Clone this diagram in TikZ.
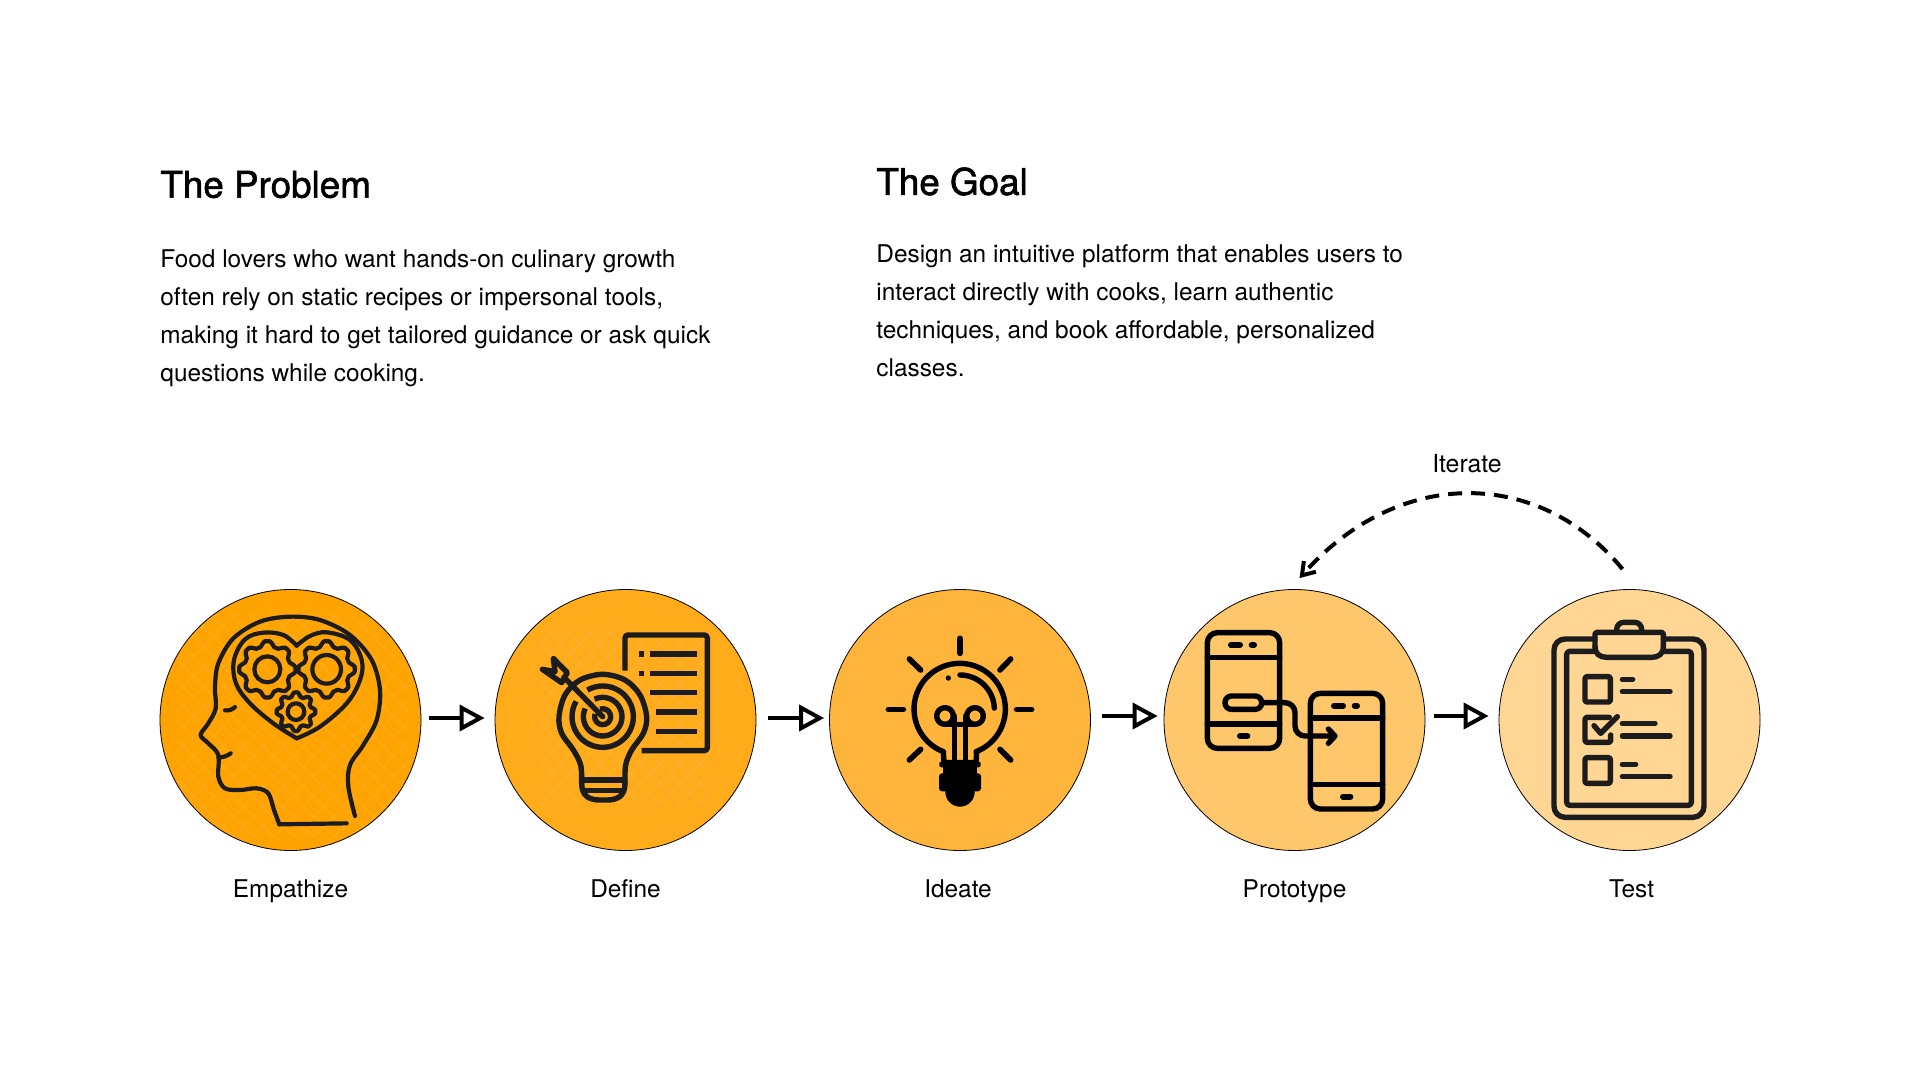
\documentclass[tikz,border=0pt]{standalone}
\usepackage{fontspec}
\setmainfont{TeX Gyre Heros}
\newfontfamily\headfont[FakeBold=1.6]{TeX Gyre Heros}
\usepackage{xcolor}
\usetikzlibrary{positioning, calc, arrows.meta}
\definecolor{stepone}{RGB}{255, 163, 0}
\definecolor{steptwo}{RGB}{255, 171, 26}
\definecolor{stepthree}{RGB}{255, 181, 59}
\definecolor{stepfour}{RGB}{255, 199, 107}
\definecolor{stepfive}{RGB}{255, 214, 148}
\definecolor{icondark}{RGB}{28, 28, 28}
\tikzset{
    stepcircle/.style={circle, draw=black, line width=0.4pt, minimum size=130.5pt, inner sep=0pt},
    steplabel/.style={font=\fontsize{12.2}{15}\selectfont, inner sep=0pt},
    headline/.style={font=\fontsize{18.4}{22}\headfont, anchor=west, inner sep=0pt},
    bodytext/.style={font=\fontsize{12.2}{19}\selectfont, anchor=north west, align=left, inner sep=0pt},
    flowarrow/.style={line width=2pt, -{Triangle[open, length=12.5pt, width=13pt, line width=2pt]}},
    iconline/.style={line width=2.7pt, line join=round, line cap=round},
    thinline/.style={line width=2.1pt, line join=round, line cap=round, icondark},
    hatchline/.style={white, opacity=0.06, line width=1pt},
}
% wavy gear outline with a round hole
\newcommand{\gearicon}[5]{
    \draw[thinline] plot[samples=145, domain=0:360, variable=\t]
        ({#1+(#3+#4*max(-0.75,min(0.75,cos(8*\t))))*cos(\t)},{#2+(#3+#4*max(-0.75,min(0.75,cos(8*\t))))*sin(\t)}) -- cycle;
    \draw[thinline] (#1,#2) circle[radius=#5];
}
\begin{document}
\begin{tikzpicture}[x=0.5pt, y=-0.5pt]
    \useasboundingbox (0,0) rectangle (1920,1080);

    % Text blocks
    \node[headline] (problemhead) at (160,184.5) {The Problem};
    \node[bodytext] (problembody) at (160,249) {Food lovers who want hands-on culinary growth\\often rely on static recipes or impersonal tools,\\making it hard to get tailored guidance or ask quick\\questions while cooking.};
    \node[headline] (goalhead) at (876,181.5) {The Goal};
    \node[bodytext] (goalbody) at (876,244) {Design an intuitive platform that enables users to\\interact directly with cooks, learn authentic\\techniques, and book affordable, personalized\\classes.};

    % Step circles
    \node[stepcircle, fill=stepone] (empathize) at (290.5,720) {};
    \node[stepcircle, fill=steptwo] (define) at (625.5,720) {};
    \node[stepcircle, fill=stepthree] (ideate) at (960,720) {};
    \node[stepcircle, fill=stepfour] (prototype) at (1294.5,720) {};
    \node[stepcircle, fill=stepfive] (test) at (1629.5,720) {};

    \node[steplabel, below=14pt of empathize] (empathizelabel) {Empathize};
    \node[steplabel, below=14pt of define] (definelabel) {Define};
    \node[steplabel, below=14pt of ideate, xshift=-1pt] (ideatelabel) {Ideate};
    \node[steplabel, below=14pt of prototype] (prototypelabel) {Prototype};
    \node[steplabel, below=14pt of test, xshift=1pt] (testlabel) {Test};

    % Flow arrows
    \draw[flowarrow] ([xshift=4pt,yshift=1pt]empathize.east) -- ([xshift=-5pt,yshift=1pt]define.west);
    \draw[flowarrow] ([xshift=6pt,yshift=1pt]define.east) -- ([xshift=-2.5pt,yshift=1pt]ideate.west);
    \draw[flowarrow] ([xshift=5.5pt,yshift=2pt]ideate.east) -- ([xshift=-3pt,yshift=2pt]prototype.west);
    \draw[flowarrow] ([xshift=4.5pt,yshift=2pt]prototype.east) -- ([xshift=-5pt,yshift=2pt]test.west);

    % Iterate loop
    \node[steplabel, font=\fontsize{12.4}{15}\selectfont] (iteratelabel) at (1467,464) {Iterate};
    \coordinate (loopstart) at ([xshift=-3.5pt,yshift=10pt]test.north);
    \coordinate (loopend) at ([xshift=2.5pt,yshift=5.5pt]prototype.north);
    \draw[line width=2pt, dash pattern=on 7pt off 4.5pt, -{Straight Barb[length=6pt, width=8pt, line width=2pt]}]
        (loopstart) .. controls (1538,467) and (1398,467) .. (loopend);

    % Empathize icon
    \begin{scope}[shift={(150,580)}, scale=1/3]
        \begin{scope}
            \clip (80,100) rectangle (780,770);
            \foreach \d in {0,60,...,1500} {
                \draw[hatchline] (\d,60) -- (\d-800,860);
                \draw[hatchline] (\d-700,60) -- (\d+100,860);
            }
        \end{scope}
        \draw[thinline] plot[smooth, tension=0.55] coordinates {(615,708) (595,620) (600,555) (640,495) (680,420) (690,330) (665,240) (600,165) (510,120) (420,110) (330,125) (250,175) (205,250) (195,320) (197,385) (175,430) (152,465) (175,490) (205,525) (205,590) (225,625) (270,630) (320,625) (355,640) (372,690) (388,733)};
        \draw[thinline] (388,733) -- (590,730);
        \draw[thinline] (225,391) to[bend right=25] (255,381);
        \draw[thinline] (205,533) to[bend right=15] (242,520);
        \draw[thinline] plot[smooth, tension=0.6] coordinates {(440,197) (400,165) (340,158) (285,178) (252,240) (258,310) (300,370) (370,430) (440,475)};
        \draw[thinline] plot[smooth, tension=0.6] coordinates {(440,197) (480,168) (530,157) (600,180) (635,240) (630,300) (590,370) (510,440) (440,475)};
        \gearicon{352}{268}{77}{10}{39}
        \gearicon{530}{268}{77}{10}{43}
        \gearicon{438}{395}{52}{8}{25}
    \end{scope}

    % Define icon
    \begin{scope}[shift={(490,580)}, scale=1/3]
        \begin{scope}
            \clip (150,150) rectangle (660,670);
            \foreach \d in {0,60,...,1300} {
                \draw[hatchline] (\d,100) -- (\d-700,800);
                \draw[hatchline] (\d-600,100) -- (\d+100,800);
            }
        \end{scope}
        \draw[iconline, icondark, line cap=butt, rounded corners=1.5pt] (405,272) -- (405,165) -- (652,165) -- (652,512) -- (455,512);
        \foreach \ya/\xa in {222/480, 280/480, 338/480, 396/497, 454/497} {
            \draw[iconline, icondark, line cap=butt] (\xa,\ya) -- (620,\ya);
        }
        \draw[iconline, icondark, line cap=butt] (447,222) -- (463,222);
        \draw[iconline, icondark, line cap=butt] (447,280) -- (463,280);
        \draw[iconline, icondark] plot[smooth, tension=0.55] coordinates {(275,610) (272,555) (250,510) (215,460) (207,410) (225,345) (270,300) (338,283) (405,300) (450,345) (470,410) (460,460) (425,510) (407,555) (405,610)};
        \draw[iconline, icondark] (275,610) .. controls (275,650) and (300,660) .. (330,660) -- (350,660) .. controls (380,660) and (405,650) .. (405,610);
        \draw[iconline, icondark] (275,600) -- (405,600);
        \draw[iconline, icondark] (285,632) -- (395,632);
        \draw[iconline, icondark, line cap=butt] (338,410) ++(240:92) arc[start angle=240, delta angle=330, radius=92];
        \draw[iconline, icondark, line cap=butt] (338,410) ++(245:58) arc[start angle=245, delta angle=320, radius=58];
        \draw[iconline, icondark, line cap=butt] (338,410) ++(250:24) arc[start angle=250, delta angle=310, radius=24];
        \draw[iconline, icondark] (338,410) -- (222,292);
        \draw[iconline, icondark] (190,235) -- (232,278) -- (215,308) -- (157,268) -- (195,275) -- cycle;
    \end{scope}

    % Ideate icon
    \begin{scope}[shift={(820,580)}, scale=1/3]
        \foreach \xa/\ya/\xb/\yb in {420/175/420/220, 205/388/250/388, 590/388/635/388, 268/237/302/270, 572/237/540/270, 268/540/302/508, 572/540/540/508} {
            \draw[iconline, black, line width=2.8pt] (\xa,\ya) -- (\xb,\yb);
        }
        \draw[iconline, black] (370,515) arc[start angle=111, delta angle=318, radius=137];
        \draw[iconline, black] (370,515) -- (372,548) -- (468,548) -- (470,515);
        \draw[iconline, black] (420,285) arc[start angle=270, delta angle=88, radius=103];
        \fill[black] (385,294) circle[radius=8];
        \draw[iconline, black] (375,408) circle[radius=25];
        \draw[iconline, black] (465,408) circle[radius=25];
        \draw[iconline, black] (375,433) -- (465,433);
        \draw[iconline, black] (404,408) -- (404,548);
        \draw[iconline, black] (436,408) -- (436,548);
        \fill[black, rounded corners=1pt] (358,545) rectangle (482,562);
        \fill[black] (368,555) rectangle (472,585);
        \fill[black, rounded corners=1.5pt] (357,580) rectangle (483,634);
        \fill[black] (376,625) -- (376,636) arc[start angle=180, delta angle=-180, radius=44] -- (464,625) -- cycle;
    \end{scope}

    % Prototype icon
    \begin{scope}[shift={(1160,580)}, scale=1/3]
        \foreach \xo/\yo in {142/158, 451/340} {
            \draw[iconline, black, rounded corners=5pt] (\xo,\yo) rectangle (\xo+217,\yo+347);
            \draw[iconline, black] (\xo,\yo+74) -- (\xo+217,\yo+74);
            \draw[iconline, black] (\xo,\yo+274) -- (\xo+217,\yo+274);
            \draw[iconline, black, line width=3pt] (\xo+71,\yo+37) -- (\xo+98,\yo+37);
            \draw[iconline, black, line width=3pt] (\xo+133,\yo+37) -- (\xo+140,\yo+37);
            \draw[iconline, black, line width=3pt] (\xo+98,\yo+310) -- (\xo+120,\yo+310);
        }
        \draw[iconline, black, rounded corners=3.2pt] (195,348) rectangle (305,388);
        \draw[iconline, black, rounded corners=5pt] (305,368) -- (405,368) -- (405,468) -- (522,468);
        \draw[iconline, black] (505,447) -- (525,468) -- (505,490);
    \end{scope}

    % Test icon
    \begin{scope}[shift={(1490,580)}, scale=1/3]
        \draw[iconline, icondark, rounded corners=5.5pt] (315,177) -- (192,177) -- (192,712) -- (642,712) -- (642,177) -- (520,177);
        \draw[iconline, icondark, rounded corners=1.5pt] (315,214) -- (230,214) -- (230,676) -- (604,676) -- (604,214) -- (520,214);
        \draw[iconline, icondark, rounded corners=1pt] (315,200) -- (315,157) -- (520,157) -- (520,200);
        \draw[iconline, icondark] (520,200) .. controls (520,222) and (505,232) .. (485,232) -- (350,232) .. controls (330,232) and (315,222) .. (315,200);
        \draw[iconline, icondark, rounded corners=3.5pt] (380,155) -- (380,127) -- (455,127) -- (455,155);
        \draw[iconline, icondark, rounded corners=1pt] (285,290) rectangle (361,366);
        \draw[iconline, icondark, rounded corners=1pt] (285,533) rectangle (361,610);
        \draw[iconline, icondark, rounded corners=1pt] (358,412) -- (285,412) -- (285,487) -- (362,487) -- (362,465);
        \draw[iconline, icondark] (312,437) -- (332,460) -- (382,410);
        \foreach \ya/\xb in {298/428, 335/540, 430/495, 468/540, 553/437, 590/540} {
            \draw[iconline, icondark] (397,\ya) -- (\xb,\ya);
        }
    \end{scope}
\end{tikzpicture}
\end{document}
